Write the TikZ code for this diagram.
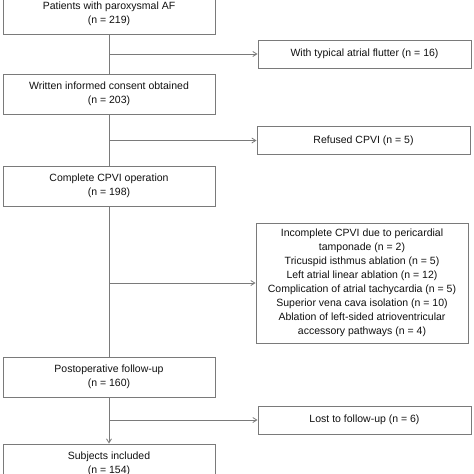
\documentclass[tikz,border=0pt]{standalone}
\usepackage{fontspec}
\setmainfont{Liberation Sans}
\usetikzlibrary{arrows.meta}
\definecolor{linegray}{HTML}{7A7A7A}
\definecolor{txt}{HTML}{111111}
\begin{document}
\begin{tikzpicture}[x=1pt,y=-1pt,
  box/.style={draw=linegray, line width=1pt, fill=white, text=txt, align=center,
    font=\fontsize{10.5}{14}\selectfont, inner sep=0pt},
  mainbox/.style={box, minimum width=212pt, minimum height=40pt},
  sidebox/.style={box, minimum width=213pt, minimum height=28pt},
  conn/.style={draw=linegray, line width=1pt},
  arr/.style={conn, -{Straight Barb[length=4pt,width=5pt,line width=0.8pt]}}]
\useasboundingbox (0,0) rectangle (474,474);
\node[mainbox] (b1) at (109,14) {Patients with paroxysmal AF\\(n = 219)};
\node[mainbox] (b2) at (109,94) {Written informed consent obtained\\(n = 203)};
\node[mainbox] (b3) at (109,186) {Complete CPVI operation\\(n = 198)};
\node[mainbox] (b5) at (109,377) {Postoperative follow-up\\(n = 160)};
\node[mainbox] (b6) at (109,464) {Subjects included\\(n = 154)};
\node[sidebox] (f1) at (364.5,54) {With typical atrial flutter (n = 16)};
\node[sidebox] (f2) at (363.5,140.5) {Refused CPVI (n = 5)};
\node[box, minimum width=212pt, minimum height=120pt] (f3) at (362,283) {Incomplete CPVI due to pericardial\\tamponade (n = 2)\\Tricuspid isthmus ablation (n = 5)\\Left atrial linear ablation (n = 12)\\Complication of atrial tachycardia (n = 5)\\Superior vena cava isolation (n = 10)\\Ablation of left-sided atrioventricular\\accessory pathways (n = 4)};
\node[sidebox] (f4) at (364.5,420) {Lost to follow-up (n = 6)};
\coordinate (j1) at (b1.south |- f1.west);
\coordinate (j2) at (b2.south |- f2.west);
\coordinate (j3) at (b3.south |- f3.west);
\coordinate (j4) at (b5.south |- f4.west);
\draw[conn] (b1.south) -- (b2.north);
\draw[conn] (b2.south) -- (b3.north);
\draw[conn] (b3.south) -- (b5.north);
\draw[arr] (b5.south) -- (b6.north);
\draw[arr] (j1) -- (f1.west);
\draw[arr] (j2) -- (f2.west);
\draw[arr] (j3) -- (f3.west);
\draw[arr] (j4) -- (f4.west);
\end{tikzpicture}
\end{document}
